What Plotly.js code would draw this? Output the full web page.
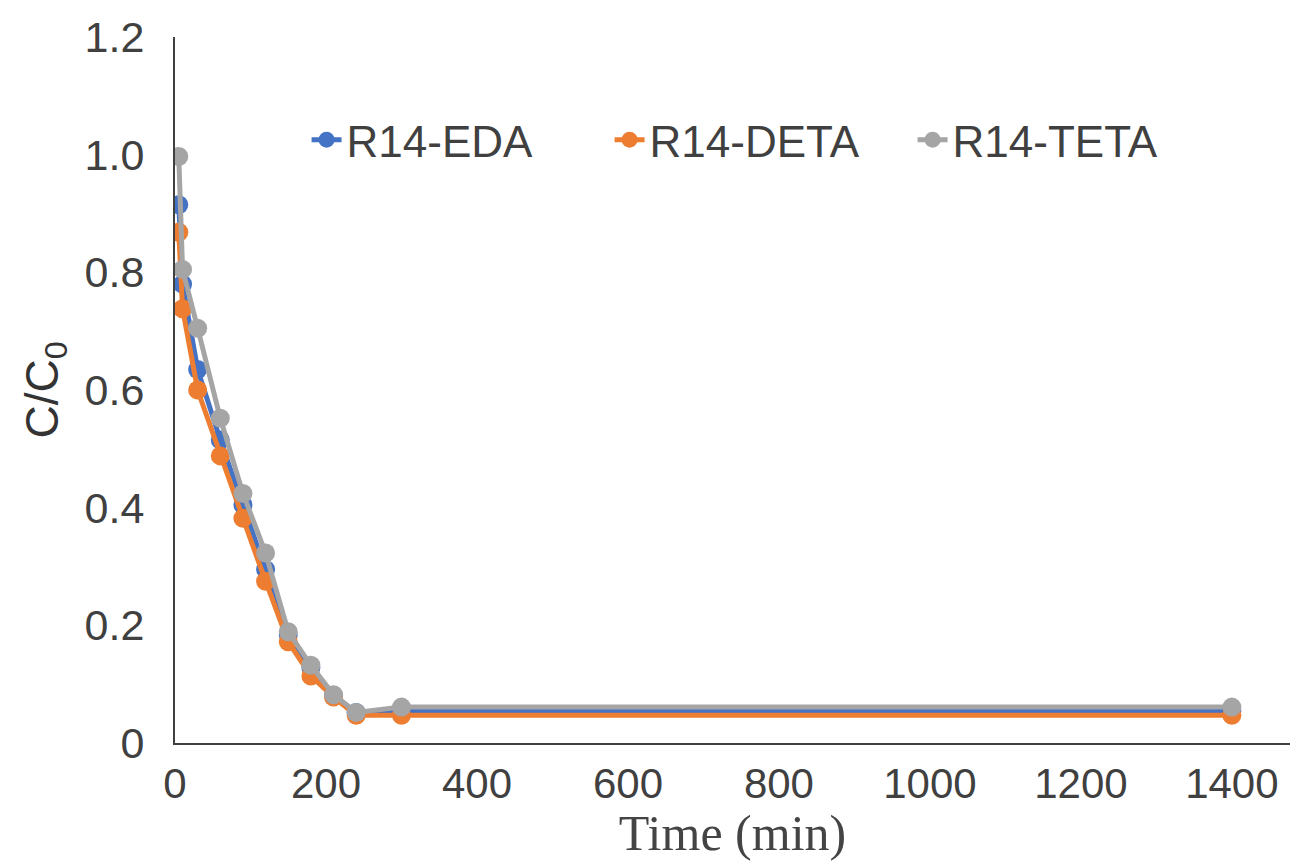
<!DOCTYPE html>
<html>
<head>
<meta charset="utf-8">
<script src="https://cdn.plot.ly/plotly-3.0.1.min.js"></script>
<style>
html,body{margin:0;padding:0;background:#fff;}
#chart{width:1292px;height:861px;}
</style>
</head>
<body>
<div id="chart"></div>
<script>
// Time (min)
var time = [5, 10, 30, 60, 90, 120, 150, 180, 210, 240, 300, 1400];
// C/C0 series
var eda  = [0.915, 0.780, 0.635, 0.515, 0.405, 0.295, 0.184, 0.128, 0.081, 0.052, 0.055, 0.055];
var deta = [0.868, 0.738, 0.600, 0.488, 0.382, 0.275, 0.172, 0.114, 0.078, 0.047, 0.047, 0.047];
var teta = [0.997, 0.805, 0.705, 0.552, 0.424, 0.323, 0.189, 0.132, 0.082, 0.052, 0.061, 0.061];
var seriesNames = ['R14-EDA', 'R14-DETA', 'R14-TETA'];
var xTicks = [0, 200, 400, 600, 800, 1000, 1200, 1400];
var yTicks = [0, 0.2, 0.4, 0.6, 0.8, 1.0, 1.2];
var yTickText = ['0', '0.2', '0.4', '0.6', '0.8', '1.0', '1.2'];

var colors = ['#4472C4', '#ED7D31', '#A5A5A5'];
var data = [eda, deta, teta].map(function (ys, i) {
  return {
    x: time, y: ys, name: seriesNames[i], type: 'scatter', mode: 'lines+markers',
    line: {color: colors[i], width: 5},
    marker: {color: colors[i], size: 19}
  };
});

var layout = {
  width: 1292, height: 861,
  margin: {l: 175, r: 2, t: 37, b: 118},
  paper_bgcolor: '#fff', plot_bgcolor: '#fff',
  font: {family: 'Liberation Sans, Arial, sans-serif', color: '#404040', size: 43},
  showlegend: true,
  legend: {
    orientation: 'h', x: 0.118, y: 0.854, xanchor: 'left', yanchor: 'middle',
    font: {size: 44, color: '#404040'}, bgcolor: 'rgba(0,0,0,0)',
    entrywidth: 258, entrywidthmode: 'pixels', tracegroupgap: 0
  },
  xaxis: {
    range: [0, 1477], tickvals: xTicks, showgrid: false, zeroline: false,
    showline: true, linecolor: '#404040', linewidth: 2,
    ticks: '', ticklabelstandoff: 3,
    tickfont: {size: 42, color: '#404040'},
    title: {text: 'Time (min)', font: {family: 'Liberation Serif, Times New Roman, serif', size: 50, color: '#444'}, standoff: 12}
  },
  yaxis: {
    range: [0, 1.2], tickvals: yTicks, ticktext: yTickText, showgrid: false, zeroline: false,
    showline: true, linecolor: '#404040', linewidth: 2,
    ticks: '', ticklabelstandoff: 20,
    tickfont: {size: 43, color: '#404040'},
    title: {text: 'C/C<sub>0</sub>', font: {size: 46, color: '#333'}, standoff: 12}
  }
};

Plotly.newPlot('chart', data, layout, {displayModeBar: false, staticPlot: true});
</script>
</body>
</html>
